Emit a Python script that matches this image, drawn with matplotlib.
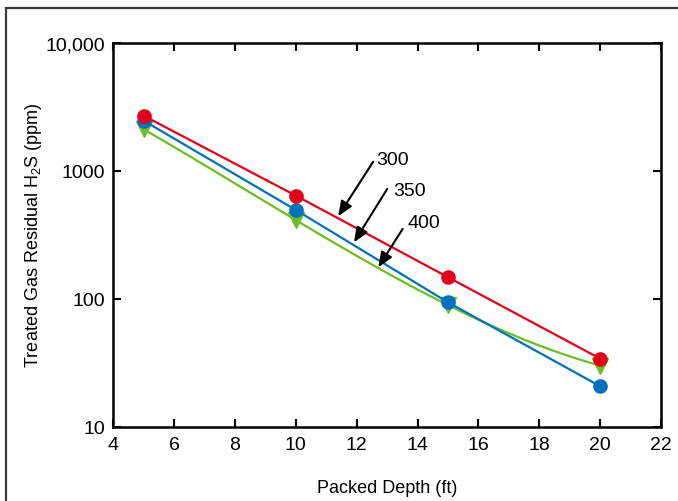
import numpy as np
import matplotlib
matplotlib.use("Agg")
import matplotlib.pyplot as plt
from matplotlib.patches import Rectangle
from matplotlib.ticker import FixedLocator, NullLocator

FONT = ['Liberation Sans', 'DejaVu Sans']
plt.rcParams['font.family'] = FONT
plt.rcParams['mathtext.fontset'] = 'custom'
plt.rcParams['mathtext.rm'] = 'Liberation Sans'
plt.rcParams['mathtext.default'] = 'rm'

# ---- data ----
depth = [5, 10, 15, 20]
h2s_300 = [2680, 637, 147, 34]
h2s_350 = [2450, 492, 93.5, 20.7]
h2s_400 = [2100, 410, 89, 30]
series_labels = ["300", "350", "400"]
x_ticks = [4, 6, 8, 10, 12, 14, 16, 18, 20, 22]
y_ticks = [10, 100, 1000, 10000]
y_tick_labels = ["10", "100", "1000", "10,000"]

RED = '#E2001A'
BLUE = '#0072BC'
GREEN = '#6CBE22'

fig = plt.figure(figsize=(6.78, 5.02), dpi=100)
ax = fig.add_axes([113.3/678, 1-427.7/502, (661-113.3)/678, (427.7-43.5)/502])

# outer frame
fig.patches.append(Rectangle((6/678, -0.1), 1.2, 1 - 8.5/502 + 0.1, transform=fig.transFigure,
                             fill=False, edgecolor='#3a3a3a', linewidth=1.6, zorder=0))

# green series: smooth curve through points (in log space)
xg = np.array(depth, dtype=float)
lg = np.log10(h2s_400)
coef = np.polyfit(xg, lg, 3)
xs = np.linspace(xg[0], xg[-1], 200)
ax.plot(xs, 10**np.polyval(coef, xs), color=GREEN, lw=1.6, zorder=2)
ax.plot(depth, h2s_400, linestyle='none', marker='v', ms=12, color=GREEN, zorder=3)

ax.plot(depth, h2s_350, color=BLUE, lw=1.6, marker='o', ms=9.5, zorder=4)
ax.plot(depth, h2s_300, color=RED, lw=1.6, marker='o', ms=9.5, zorder=5)

ax.set_yscale('log')
ax.set_xlim(4, 22)
ax.set_ylim(10, 10000)
ax.xaxis.set_major_locator(FixedLocator(x_ticks))
ax.yaxis.set_major_locator(FixedLocator(y_ticks))
ax.yaxis.set_minor_locator(NullLocator())
ax.set_yticklabels(y_tick_labels)
ax.set_xticklabels([str(t) for t in x_ticks])

ax.tick_params(axis='both', which='major', direction='in', length=6, width=1.5,
               top=True, right=True, labelsize=14, colors='black', pad=7)
ax.tick_params(axis='y', pad=6)
for lbl in ax.get_yticklabels():
    lbl.set_verticalalignment('center_baseline')
for s in ax.spines.values():
    s.set_linewidth(1.8)
    s.set_color('black')

ax.set_xlabel('Packed Depth (ft)', fontsize=13)
ax.xaxis.set_label_coords(0.5, -(489 - 427.7) / (427.7 - 43.5), transform=ax.transAxes)
ax.xaxis.label.set_verticalalignment('center')
ax.set_ylabel('Treated Gas Residual H$_2$S (ppm)', fontsize=13)
ax.yaxis.set_label_coords((33 - 113.3) / (661 - 113.3), 0.5, transform=ax.transAxes)
ax.yaxis.label.set_verticalalignment('center')

# annotations
arrows = [((11.39, 440), (12.54, 1172), (12.65, 1216)),
          ((11.91, 275), (13.0, 718), (13.2, 697)),
          ((12.71, 176), (13.51, 350), (13.66, 394))]
for lab, (tip, start, txt) in zip(series_labels, arrows):
    ax.annotate('', xy=tip, xytext=start,
                arrowprops=dict(arrowstyle='-|>,head_length=0.6,head_width=0.25',
                                color='black', lw=1.5, mutation_scale=15,
                                shrinkA=0, shrinkB=0), zorder=6)
    ax.text(txt[0], txt[1], lab, fontsize=14, ha='left', va='center', zorder=6)

fig.savefig('out.png', dpi=100)
